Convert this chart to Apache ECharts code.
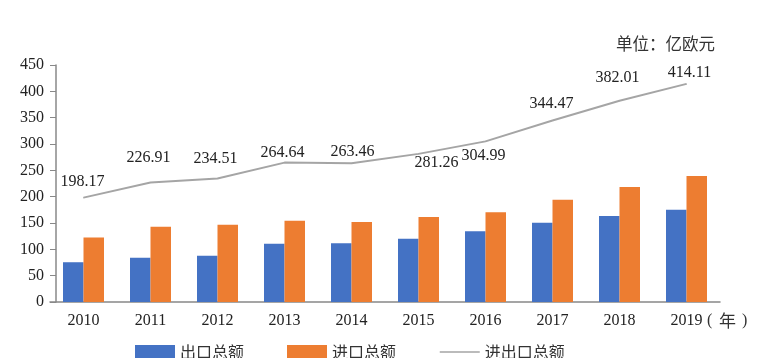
<!DOCTYPE html>
<html>
<head>
<meta charset="utf-8">
<script src="https://cdn.jsdelivr.net/npm/echarts@6/dist/echarts.min.js"></script>
<style>html,body{margin:0;padding:0;background:#fff}#c{width:764px;height:358px}</style>
</head>
<body>
<div id="c"></div>
<script>
var years = ['2010','2011','2012','2013','2014','2015','2016','2017','2018','2019'];
var exportTotal = [75.5, 84, 88, 110.5, 111.5, 120, 134.5, 150.5, 163.5, 175];
var importTotal = [122.67, 142.91, 146.51, 154.14, 151.96, 161.26, 170.49, 193.97, 218.51, 239.11];
var tradeTotal = [198.17, 226.91, 234.51, 264.64, 263.46, 281.26, 304.99, 344.47, 382.01, 414.11];
var yTicks = [0, 50, 100, 150, 200, 250, 300, 350, 400, 450];
var labelOffsets = [[-1,-16],[-2,-25],[-2,-20],[-2,-10],[1,-11],[18,9],[-2,14],[-1,-17],[-2,-23],[3,-11]];

var serif = 'Liberation Serif';
var cjk = 'Noto Sans CJK SC';
var chart = echarts.init(document.getElementById('c'));
chart.setOption({
  animation: false,
  grid: {left: 50, right: 44, top: 65, bottom: 56},
  legend: {
    left: 135, top: 344, padding: 0, itemWidth: 40, itemHeight: 14, itemGap: 43,
    textStyle: {fontFamily: cjk, fontSize: 16, color: '#333'},
    data: [
      {name: '出口总额', icon: 'rect'},
      {name: '进口总额', icon: 'rect'},
      {name: '进出口总额', itemStyle: {opacity: 0}, lineStyle: {color: '#a5a5a5', width: 1.5}}
    ]
  },
  xAxis: {
    type: 'category', data: years,
    axisLine: {lineStyle: {color: '#888', width: 1.5}},
    axisTick: {show: false},
    axisLabel: {fontFamily: serif, fontSize: 16, color: '#222', margin: 11}
  },
  yAxis: {
    type: 'value', min: yTicks[0], max: yTicks[yTicks.length-1], interval: 50, offset: -6,
    axisLine: {show: true, lineStyle: {color: '#888', width: 1.5}},
    axisTick: {show: true, length: 6, lineStyle: {color: '#888'}},
    splitLine: {show: false},
    axisLabel: {fontFamily: serif, fontSize: 16, color: '#222', margin: 12}
  },
  graphic: [
    {type: 'text', left: 616, top: 35, style: {text: '单位：亿欧元', font: '16.5px "Noto Sans CJK SC"', fill: '#333'}},
    {type: 'text', left: 707, top: 313, style: {text: '(', font: '16px "Liberation Serif"', fill: '#333'}},
    {type: 'text', left: 719, top: 312, style: {text: '年', font: '17px "Noto Sans CJK SC"', fill: '#333'}},
    {type: 'text', left: 742, top: 313, style: {text: ')', font: '16px "Liberation Serif"', fill: '#333'}}
  ],
  series: [
    {name: '出口总额', type: 'bar', data: exportTotal, barWidth: 20.5, barGap: '0%',
      itemStyle: {color: '#4472c4'}},
    {name: '进口总额', type: 'bar', data: importTotal, barWidth: 20.5, barGap: '0%',
      itemStyle: {color: '#ed7d31'}},
    {name: '进出口总额', type: 'line', symbol: 'circle', symbolSize: 1, showSymbol: true,
      lineStyle: {color: '#a5a5a5', width: 2}, itemStyle: {color: '#a5a5a5'},
      data: tradeTotal.map(function (v, i) {
        return {value: v, label: {show: true, position: 'inside', offset: labelOffsets[i],
          fontFamily: serif, fontSize: 16, color: '#222', formatter: function (p) { return p.value.toFixed(2); }}};
      })
    }
  ]
});
</script>
</body>
</html>
